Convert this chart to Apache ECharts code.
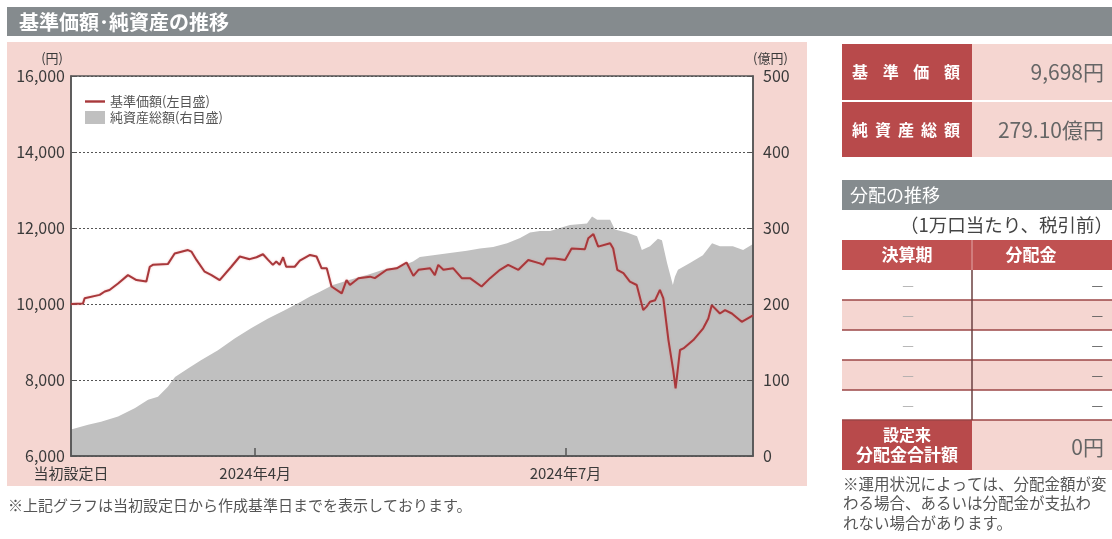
<!DOCTYPE html>
<html><head><meta charset="utf-8">
<script src="https://cdn.jsdelivr.net/npm/echarts@6/dist/echarts.min.js"></script>
<style>html,body{margin:0;padding:0;background:#fff}#c{width:1112px;height:539px}</style>
</head><body><div id="c"></div>
<script>
const FONT = '"Noto Sans CJK JP", "Noto Sans", sans-serif';

// 基準価額 (円) — days since inception / value
const navDay = [0,3.5,4,8.4,9.9,11.3,13.8,16.7,19.2,22.1,23.1,24,28.4,30.4,34.3,35.3,36.8,39.2,41.2,43.6,47,49.5,52.4,54.4,56.3,57.8,59.2,60.2,61.2,62.2,63.1,65.6,67.1,70.1,72,73.5,75,76.4,79.4,80.8,81.8,84.3,87.7,89.1,92.6,95.5,98.4,100.4,101.9,105.3,106.7,107.7,109.2,112.1,114.6,117,120.4,122.9,125.8,128.2,131.2,134.1,137.5,138.5,139.5,141.9,144.9,146.8,150.7,151.7,153.2,154.6,158.1,159,160.2,162,163.9,165.9,167.8,168.8,169.8,171.3,172.7,173.7,175.2,176.6,177.3,178.6,179.6,182.5,185.4,186.9,187.9,190.3,191.8,193.8,196.7,200];
const navValue = [10000,10010,10150,10240,10330,10370,10540,10760,10630,10590,10980,11030,11050,11330,11420,11380,11160,10850,10760,10630,10980,11250,11180,11230,11310,11160,11030,11120,11030,11230,10980,10980,11140,11290,11250,10940,10940,10460,10280,10630,10500,10680,10720,10680,10900,10940,11090,10740,10900,10940,10760,11030,10900,10940,10680,10680,10460,10680,10900,11030,10900,11160,11070,11030,11200,11200,11160,11460,11440,11730,11840,11510,11600,11460,10900,10810,10590,10500,9840,9930,10060,10100,10370,10150,9050,8260,7780,8790,8830,9050,9360,9620,9970,9750,9840,9750,9530,9698];

// 純資産総額 (億円)
const assetDay = [0,5,8.8,13.8,18.8,22.6,25.5,28.4,30.5,34.3,38.1,43.1,48.1,52.8,57.8,62.8,67.4,70.1,73,76.8,81.8,86.8,91.5,96.5,100.3,102.3,106.2,111.1,116.1,119.9,123.8,127.9,131.7,134.6,137.5,140.5,146.3,151.3,152.8,154.3,158.1,159.5,163,166,167.4,169.8,172.1,173.3,174.8,176.5,177.1,178,181.5,185.3,188,190.3,194.1,197.1,200];
const assetValue = [35,41,45,52,63,74,78,91,104,115,126,139,155,168,181,192,203,210,216,225,232,238,245,249,256,262,264,267,270,273,275,280,287,294,296,296,304,306,315,311,311,298,294,289,271,276,286,284,254,225,236,245,254,264,280,276,276,271,279];

const xTickDays = [0, 54, 145];
const xTickLabels = ['当初設定日', '2024年4月', '2024年7月'];

const seriesNames = ['基準価額(左目盛)', '純資産総額(右目盛)'];
const navLatest = '9,698円';
const assetLatest = '279.10億円';
const distHeader = ['決算期', '分配金'];
const distRows = [['—','—'],['—','—'],['—','—'],['—','—'],['—','—']];
const distTotal = '0円';

const RED = '#b84a4b', PINK = '#f5d6d1', GRAY = '#858b8e';

function spaced(str, x0, x1, y, font, fill) {
  const n = str.length, out = [];
  for (let i = 0; i < n; i++) {
    out.push({type:'text', z:5, style:{text:str[i], x: n === 1 ? (x0+x1)/2 : x0 + (x1-x0)*i/(n-1), y,
      font, fill, textAlign:'center', textVerticalAlign:'middle'}});
  }
  return out;
}

const els = [];
els.push({type:'rect', z:-30, shape:{x:7,y:42,width:800,height:444}, style:{fill:PINK}});
els.push({type:'rect', z:-25, shape:{x:71,y:76,width:682,height:380}, style:{fill:'#fff'}});
els.push({type:'rect', shape:{x:7,y:7,width:1105,height:29}, style:{fill:GRAY}});
els.push({type:'text', z:5, style:{text:'基準価額･純資産の推移', x:19, y:22, font:'bold 20px '+FONT, fill:'#fff', textVerticalAlign:'middle'}});
els.push({type:'text', z:5, style:{text:'※上記グラフは当初設定日から作成基準日までを表示しております。', x:8, y:505, font:'15px '+FONT, fill:'#555', textVerticalAlign:'middle'}});

// right panel: latest values
els.push({type:'rect', shape:{x:842,y:44,width:130,height:56}, style:{fill:RED}});
els.push({type:'rect', shape:{x:972,y:44,width:140,height:56}, style:{fill:PINK}});
els.push({type:'rect', shape:{x:842,y:102,width:130,height:55}, style:{fill:RED}});
els.push({type:'rect', shape:{x:972,y:102,width:140,height:55}, style:{fill:PINK}});
els.push(...spaced('基準価額', 860, 952, 72, 'bold 16px '+FONT, '#fff'));
els.push(...spaced('純資産総額', 860, 952, 130, 'bold 16px '+FONT, '#fff'));
els.push({type:'text', z:5, style:{text:navLatest, x:1104, y:72, font:'21px '+FONT, fill:'#666', textAlign:'right', textVerticalAlign:'middle'}});
els.push({type:'text', z:5, style:{text:assetLatest, x:1104, y:130, font:'21px '+FONT, fill:'#666', textAlign:'right', textVerticalAlign:'middle'}});

// distribution table
els.push({type:'rect', shape:{x:842,y:180,width:270,height:30}, style:{fill:GRAY}});
els.push({type:'text', z:5, style:{text:'分配の推移', x:850, y:195, font:'18px '+FONT, fill:'#fff', textVerticalAlign:'middle'}});
els.push({type:'text', z:5, style:{text:'（1万口当たり、税引前）', x:1113, y:225, font:'18.5px '+FONT, fill:'#444', textAlign:'right', textVerticalAlign:'middle'}});
els.push({type:'rect', shape:{x:842,y:240,width:270,height:30}, style:{fill:'#c05151'}});
els.push({type:'text', z:5, style:{text:distHeader[0], x:907, y:255, font:'bold 17px '+FONT, fill:'#fff', textAlign:'center', textVerticalAlign:'middle'}});
els.push({type:'text', z:5, style:{text:distHeader[1], x:1031, y:255, font:'bold 17px '+FONT, fill:'#fff', textAlign:'center', textVerticalAlign:'middle'}});
els.push({type:'line', z:5, shape:{x1:972,y1:240,x2:972,y2:270}, style:{stroke:'#e3a9a9', lineWidth:1}});
distRows.forEach((r, i) => {
  const y = 270 + 30*i;
  els.push({type:'rect', shape:{x:842,y,width:270,height:30}, style:{fill: i%2 ? PINK : '#fff'}});
  els.push({type:'text', z:5, style:{text:r[0], x:908, y:y+15, font:'13px '+FONT, fill:'#aaa', textAlign:'center', textVerticalAlign:'middle'}});
  els.push({type:'text', z:5, style:{text:r[1], x:1103, y:y+15, font:'13px '+FONT, fill:'#555', textAlign:'right', textVerticalAlign:'middle'}});
  els.push({type:'line', z:6, shape:{x1:842,y1:y+30,x2:1112,y2:y+30}, style:{stroke:'#9b4646', lineWidth:1.5}});
});
els.push({type:'line', z:6, shape:{x1:972,y1:270,x2:972,y2:420}, style:{stroke:'#6b4040', lineWidth:1.5}});
els.push({type:'rect', shape:{x:842,y:420,width:130,height:50}, style:{fill:RED}});
els.push({type:'rect', shape:{x:972,y:420,width:140,height:50}, style:{fill:PINK}});
els.push({type:'text', z:5, style:{text:'設定来', x:907, y:435, font:'bold 16px '+FONT, fill:'#fff', textAlign:'center', textVerticalAlign:'middle'}});
els.push({type:'text', z:5, style:{text:'分配金合計額', x:907, y:455, font:'bold 17px '+FONT, fill:'#fff', textAlign:'center', textVerticalAlign:'middle'}});
els.push({type:'text', z:5, style:{text:distTotal, x:1104, y:447, font:'21px '+FONT, fill:'#666', textAlign:'right', textVerticalAlign:'middle'}});
['※運用状況によっては、分配金額が変', 'わる場合、あるいは分配金が支払わ', 'れない場合があります。'].forEach((t, i) => {
  els.push({type:'text', z:5, style:{text:t, x:843, y:484 + 19.5*i, font:'15.5px '+FONT, fill:'#555', textVerticalAlign:'middle'}});
});

const chart = echarts.init(document.getElementById('c'), null, {renderer:'canvas'});
chart.setOption({
  animation: false,
  backgroundColor: '#fff',
  textStyle: {fontFamily: FONT},
  grid: {left:71, right:359, top:76, bottom:83, show:true, backgroundColor:'transparent', borderColor:'#555', borderWidth:1.5},
  legend: {
    orient:'vertical', left:80, top:90, itemWidth:20, itemHeight:13, itemGap:3,
    textStyle:{fontSize:13, color:'#555', fontFamily:FONT},
    data:[{name:seriesNames[0], icon:'path://M0,0L20,0L20,2.4L0,2.4Z'}, {name:seriesNames[1], icon:'rect'}]
  },
  xAxis: {
    type:'value', min:0, max:200,
    axisLine:{show:true, lineStyle:{color:'#555', width:1.5}},
    splitLine:{show:false},
    axisTick:{show:true, inside:true, length:8, customValues:xTickDays.slice(1), lineStyle:{color:'#555', width:1.5}},
    axisLabel:{customValues:xTickDays, formatter:(v) => xTickLabels[xTickDays.indexOf(v)] || '', fontSize:15, color:'#3a3a3a', margin:10, fontFamily:FONT}
  },
  yAxis: [{
    type:'value', min:6000, max:16000, interval:2000, position:'left',
    name:'(円)', nameLocation:'end', nameGap:11,
    nameTextStyle:{align:'right', padding:[0,8,0,0], fontSize:13, color:'#3a3a3a', fontFamily:FONT},
    axisLine:{show:true, lineStyle:{color:'#555', width:1.5}},
    axisTick:{show:true, inside:true, length:4, lineStyle:{color:'#555'}},
    axisLabel:{formatter:(v) => v.toLocaleString('en-US'), fontSize:16, color:'#3a3a3a', margin:6, fontFamily:FONT},
    splitLine:{show:true, lineStyle:{color:'#555', width:1, type:[2,2]}}
  }, {
    type:'value', min:0, max:500, interval:100, position:'right',
    name:'(億円)', nameLocation:'end', nameGap:11,
    nameTextStyle:{align:'left', fontSize:13, color:'#3a3a3a', fontFamily:FONT},
    axisLine:{show:true, lineStyle:{color:'#555', width:1.5}},
    axisTick:{show:true, inside:true, length:4, lineStyle:{color:'#555'}},
    axisLabel:{fontSize:16, color:'#3a3a3a', margin:10, fontFamily:FONT},
    splitLine:{show:false}
  }],
  series: [{
    name:seriesNames[1], type:'line', yAxisIndex:1, z:-1, symbol:'none',
    data: assetDay.map((d, i) => [d, assetValue[i]]),
    itemStyle:{color:'#c0c0c0'},
    lineStyle:{width:0, color:'#c0c0c0'},
    areaStyle:{color:'#c0c0c0', opacity:1}
  }, {
    name:seriesNames[0], type:'line', yAxisIndex:0, z:3, symbol:'none',
    data: navDay.map((d, i) => [d, navValue[i]]),
    itemStyle:{color:'#a8383b'},
    lineStyle:{width:2, color:'#a8383b', shadowColor:'rgba(230,120,120,0.5)', shadowBlur:2}
  }],
  graphic: {elements: els}
});
</script></body></html>
